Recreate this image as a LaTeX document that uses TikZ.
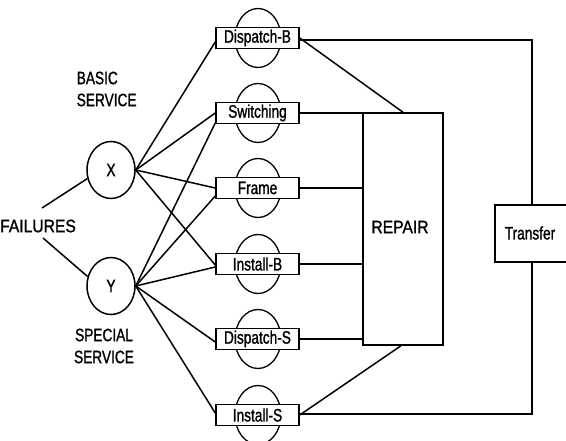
\documentclass[tikz,border=0pt]{standalone}
\usepackage{fontspec}
\setmainfont{Liberation Sans}[FakeStretch=0.76,FakeBold=1.2]
\newfontfamily\widefont{Liberation Sans}[FakeStretch=0.87,FakeBold=1.2]
\usetikzlibrary{shapes.geometric,calc}
\begin{document}
\begin{tikzpicture}[x=1pt,y=-1pt,
  every path/.style={line width=1.5pt},
  lbl/.style={font=\fontsize{18}{19}\selectfont, inner sep=0pt},
  widelbl/.style={font=\fontsize{18}{19}\selectfont\widefont, inner sep=0pt},
  mbox/.style={draw, fill=white, minimum width=83pt, minimum height=21pt, inner sep=0pt, font=\fontsize{18}{19}\selectfont},
  bigbox/.style={draw, inner sep=0pt},
  svc/.style={draw, ellipse, minimum width=48pt, minimum height=57pt, inner sep=0pt, font=\fontsize{18}{19}\selectfont},
  halo/.style={line width=1.3pt}]
\useasboundingbox (0,0) rectangle (566,441);
% ellipses behind boxes
\foreach \yy in {38,113,188,264,339,415}
  \draw[halo] (258,\yy) ellipse (23pt and 29.5pt);
% boxes
\node[mbox] (db) at (257.5,38) {Dispatch-B};
\node[mbox] (sw) at (257.5,113) {Switching};
\node[mbox] (fr) at (257.5,188) {Frame};
\node[mbox] (ib) at (257.5,264) {Install-B};
\node[mbox] (ds) at (257.5,339) {Dispatch-S};
\node[mbox] (is) at (257.5,415) {Install-S};
% service circles
\node[svc] (X) at (111,170) {X};
\node[svc] (Y) at (111,286) {Y};
% labels
\node[widelbl] (fail) at (38,226) {FAILURES};
\node[lbl, align=left, anchor=west] (basic) at (76,89) {BASIC\\[3pt]SERVICE};
\node[lbl, align=center] (special) at (104,346) {SPECIAL\\[3pt]SERVICE};
% repair and transfer
\node[bigbox, minimum width=80pt, minimum height=232pt] (rep) at (403,229) {};
\node[widelbl] (reptxt) at (400,227) {REPAIR};
\node[bigbox, minimum width=80pt, minimum height=57pt] (tr) at (535,233.5) {};
\node[lbl] (trtxt) at (530,233) {Transfer};
% failures lines
\coordinate (f1) at (42,208);
\coordinate (f2) at (43,238);
\draw (f1) -- (X.200);
\draw (f2) -- (Y.158);
% X lines
\draw (X.east) -- ($(db.west)+(0,4)$);
\draw (X.east) -- ($(sw.west)+(0,0)$);
\draw (X.east) -- (fr.west);
\draw (X.east) -- ($(ib.west)+(0,1)$);
% Y lines
\draw (Y.east) -- ($(sw.west)+(0,10)$);
\draw (Y.east) -- ($(fr.west)+(0,8)$);
\draw (Y.east) -- ($(ib.west)+(0,3)$);
\draw (Y.east) -- ($(ds.west)+(0,3)$);
\draw (Y.east) -- ($(is.west)+(0,-2)$);
% right side connections
\draw (db.east) -- (rep.north);
\draw (sw.east) -- (sw.east -| rep.west);
\draw (fr.east) -- (fr.east -| rep.west);
\draw (ib.east) -- (ib.east -| rep.west);
\draw (ds.east) -- (ds.east -| rep.west);
\draw (is.east) -- ($(rep.south)+(-2,0)$);
\coordinate (tc) at (532,0);
\draw ($(db.east)+(0,2)$) -| (tr.north -| tc);
\draw ($(is.east)+(0,-1)$) -| (tr.south -| tc);
\end{tikzpicture}
\end{document}
